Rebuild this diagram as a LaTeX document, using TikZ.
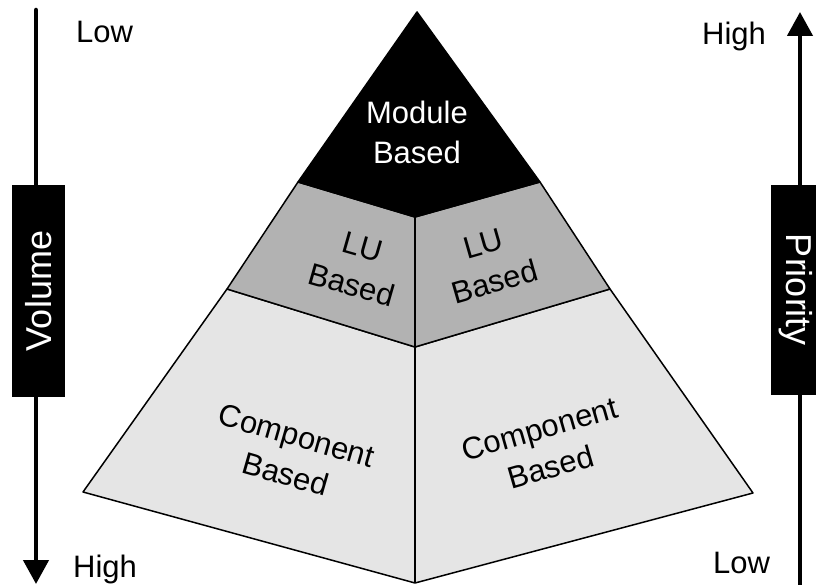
\documentclass[tikz,border=0pt]{standalone}
\usepackage{fontspec}
\setmainfont{Liberation Sans}
\usetikzlibrary{arrows.meta}

\begin{document}
\begin{tikzpicture}[x=1pt,y=-1pt,
  lbl/.style={font=\fontsize{31}{40}\selectfont, align=center, inner sep=0pt},
  face/.style={draw=black, line width=1.5pt, line join=round},
  axis/.style={line width=4.5pt, -{Triangle[width=25pt,length=24pt]}},
  tag/.style={fill=black, text=white, font=\fontsize{36}{40}\selectfont, inner sep=0pt}]
\useasboundingbox (0,0) rectangle (816,585);

% pyramid corners
\coordinate (apex) at (417,12);
\coordinate (tl) at (298,182);
\coordinate (tc) at (415,217);
\coordinate (tr) at (540,182);
\coordinate (ml) at (227,289);
\coordinate (mc) at (415,347);
\coordinate (mr) at (610,289);
\coordinate (bl) at (83,492);
\coordinate (bc) at (415,583);
\coordinate (br) at (753,493);

% faces
\filldraw[face, fill=black!10] (ml) -- (bl) -- (bc) -- (br) -- (mr) -- (mc) -- cycle;
\filldraw[face, fill=black!30] (tl) -- (ml) -- (mc) -- (mr) -- (tr) -- (tc) -- cycle;
\filldraw[face, fill=black] (apex) -- (tl) -- (tc) -- (tr) -- cycle;
\draw[face] (tc) -- (mc) -- (bc);

\node[lbl, text=white] (module) at (417,132) {Module\\Based};
\node[lbl, rotate=-16] (luleft) at (357,266) {LU\\Based};
\node[lbl, rotate=16] (luright) at (489,263) {LU\\Based};
\node[lbl, rotate=-16] (compleft) at (291,455) {Component\\Based};
\node[lbl, rotate=16] (compright) at (545,448) {Component\\Based};

% axes
\coordinate (vtop) at (36,10);
\coordinate (vbot) at (36,584);
\coordinate (pbot) at (800,585);
\coordinate (ptop) at (800,12);
\draw[axis, line cap=round] (vtop) -- (vbot);
\draw[axis] (pbot) -- (ptop);

\node[tag, rotate=90, minimum width=212pt, minimum height=53pt] (volume) at (38.5,291) {Volume};
\node[tag, rotate=-90, minimum width=210pt, minimum height=50pt] (priority) at (796,290) {Priority};

\node[lbl, anchor=base west] (lowtop) at (76,43) {Low};
\node[lbl, anchor=base west] (hightop) at (702,45) {High};
\node[lbl, anchor=base west] (highbot) at (73,577) {High};
\node[lbl, anchor=base west] (lowbot) at (713,573) {Low};

\end{tikzpicture}
\end{document}
